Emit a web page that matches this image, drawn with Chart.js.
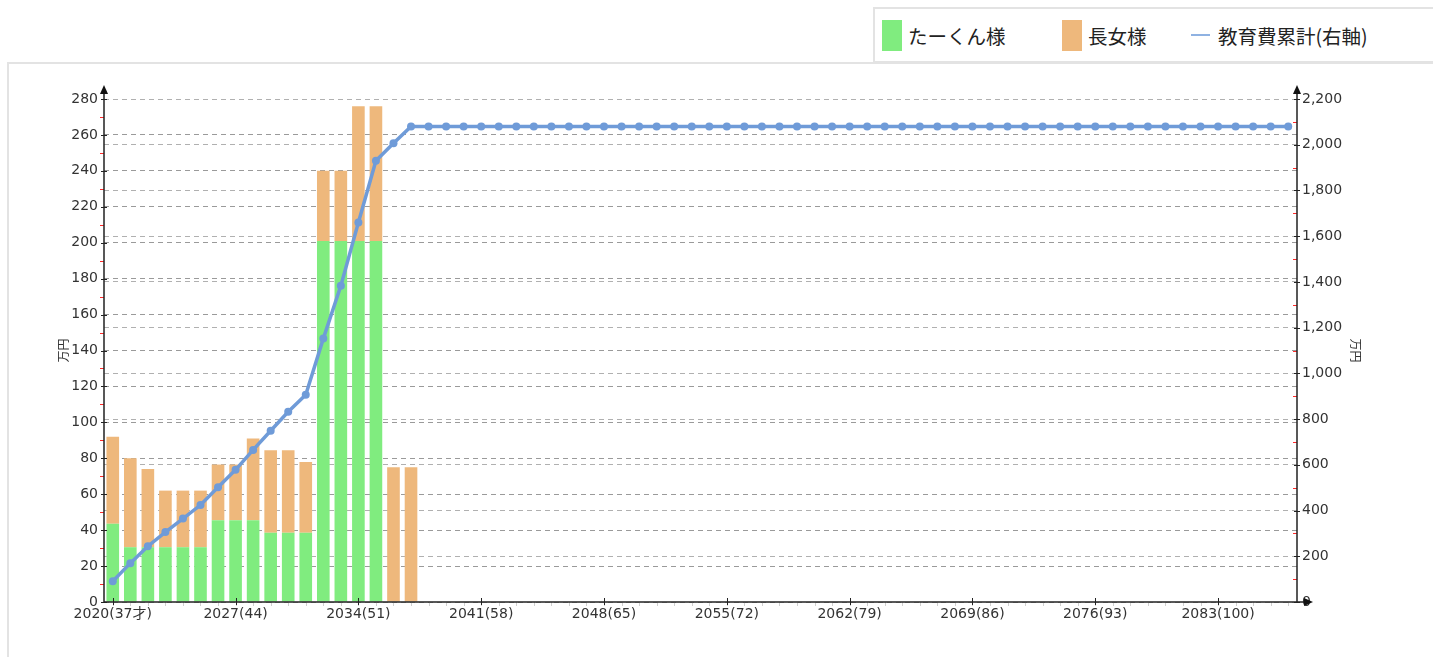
<!DOCTYPE html>
<html>
<head>
<meta charset="utf-8">
<script src="https://cdn.jsdelivr.net/npm/chart.js@4.4.1/dist/chart.umd.min.js"></script>
<style>
  body { margin: 0; background: #fff; width: 1433px; height: 657px; overflow: hidden; position: relative; }
  #panel { position: absolute; left: 7px; top: 62px; width: 1460px; height: 640px; border: 2px solid #e3e3e3; box-sizing: border-box; }
  #legend { position: absolute; left: 873px; top: 7px; width: 600px; height: 56px; border: 2px solid #e3e3e3; box-sizing: border-box; background: #fff; z-index: 2; }
  .item { position: absolute; top: 10px; height: 32px; display: flex; align-items: center; font-family: "Noto Sans CJK JP", sans-serif; font-size: 19.5px; color: #222; white-space: nowrap; }
  .swatch { width: 20px; height: 31px; margin-right: 6px; }
  .dash { width: 19px; height: 2px; margin-right: 8px; }
  #c { position: absolute; left: 0; top: 0; z-index: 1; }
</style>
</head>
<body>
<div id="panel"></div>
<div id="legend"></div>
<canvas id="c" width="1433" height="657"></canvas>
<script>
// data
const startYear = 2020;
const startAge = 37;
const yearCount = 68;
const labelEvery = 7;

const seriesNames = ["たーくん様", "長女様", "教育費累計(右軸)"];
const seriesColors = ["#80ec7f", "#eeb87c", "#6f9bd8"];

// 万円 per year, 2020 .. 2037
const takunCost = [43.5, 30.5, 30.5, 30.5, 30.5, 30.5, 45.5, 45.5, 45.5, 38.5, 38.5, 38.5, 201, 201, 201, 201, 0, 0];
const daughterCost = [48.5, 49.5, 43.5, 31.5, 31.5, 31.5, 31, 31, 45.5, 46, 46, 39.5, 39, 39, 75, 75, 75, 75];

// cumulative (right axis), 2020 .. 2087
const cumulativeCost = [
  91, 170, 244, 306, 365, 424, 502, 578, 665, 749, 832, 906, 1152, 1383, 1660, 1930, 2006, 2080,
  2080, 2080, 2080, 2080, 2080, 2080, 2080, 2080, 2080, 2080,
  2080, 2080, 2080, 2080, 2080, 2080, 2080, 2080, 2080, 2080,
  2080, 2080, 2080, 2080, 2080, 2080, 2080, 2080, 2080, 2080,
  2080, 2080, 2080, 2080, 2080, 2080, 2080, 2080, 2080, 2080,
  2080, 2080, 2080, 2080, 2080, 2080, 2080, 2080, 2080, 2080
];

const leftMax = 280, leftStep = 20;
const rightMax = 2200, rightStep = 200;

const yearLabels = [];
for (let i = 0; i < yearCount; i++) {
  yearLabels.push((startYear + i) + "(" + (startAge + i) + (i === 0 ? "才" : "") + ")");
}

const tickFont = { family: "'DejaVu Sans', 'Noto Sans CJK JP'", size: 14 };
const titleFont = { family: "'Noto Sans CJK JP'", size: 12 };

// axis lines, arrows and small tick marks
const axisDecor = {
  id: "axisDecor",
  afterDraw(chart) {
    const ctx = chart.ctx;
    const a = chart.chartArea;
    const { x, y, y1 } = chart.scales;
    ctx.save();

    // minor red ticks
    ctx.strokeStyle = "#ff2a2a";
    ctx.lineWidth = 1;
    for (let v = leftStep / 2; v < leftMax; v += leftStep) {
      const py = Math.round(y.getPixelForValue(v)) + 0.5;
      ctx.beginPath(); ctx.moveTo(a.left - 4, py); ctx.lineTo(a.left, py); ctx.stroke();
    }
    for (let v = rightStep / 2; v < rightMax; v += rightStep) {
      const py = Math.round(y1.getPixelForValue(v)) + 0.5;
      ctx.beginPath(); ctx.moveTo(a.right - 4, py); ctx.lineTo(a.right, py); ctx.stroke();
    }

    // minor x ticks
    ctx.strokeStyle = "#cfcfcf";
    for (let i = 0; i < yearCount; i++) {
      const px = Math.round(x.getPixelForValue(i)) + 0.5;
      ctx.beginPath(); ctx.moveTo(px, a.bottom); ctx.lineTo(px, a.bottom + 4); ctx.stroke();
    }

    ctx.strokeStyle = "#222";
    ctx.fillStyle = "#111";
    ctx.lineWidth = 1.5;
    // axis lines
    ctx.beginPath();
    ctx.moveTo(a.left, a.top - 10); ctx.lineTo(a.left, a.bottom);
    ctx.moveTo(a.right, a.top - 10); ctx.lineTo(a.right, a.bottom);
    ctx.moveTo(a.left, a.bottom); ctx.lineTo(a.right + 8, a.bottom);
    ctx.stroke();

    // major ticks
    ctx.lineWidth = 1;
    y.ticks.forEach((t, i) => {
      const py = Math.round(y.getPixelForTick(i)) + 0.5;
      ctx.beginPath(); ctx.moveTo(a.left - 3, py); ctx.lineTo(a.left + 3, py); ctx.stroke();
    });
    y1.ticks.forEach((t, i) => {
      const py = Math.round(y1.getPixelForTick(i)) + 0.5;
      ctx.beginPath(); ctx.moveTo(a.right - 3, py); ctx.lineTo(a.right + 3, py); ctx.stroke();
    });
    for (let i = 0; i < yearCount; i += labelEvery) {
      const px = Math.round(x.getPixelForValue(i)) + 0.5;
      ctx.beginPath(); ctx.moveTo(px, a.bottom - 4); ctx.lineTo(px, a.bottom + 3); ctx.stroke();
    }

    // arrows
    const up = (ax) => {
      ctx.beginPath();
      ctx.moveTo(ax, a.top - 14);
      ctx.lineTo(ax - 4, a.top - 5);
      ctx.lineTo(ax + 4, a.top - 5);
      ctx.closePath(); ctx.fill();
    };
    up(a.left);
    up(a.right);
    ctx.beginPath();
    ctx.moveTo(a.right + 16, a.bottom);
    ctx.lineTo(a.right + 7, a.bottom - 4);
    ctx.lineTo(a.right + 7, a.bottom + 4);
    ctx.closePath(); ctx.fill();

    ctx.restore();
  }
};

const chart = new Chart(document.getElementById("c"), {
  type: "bar",
  data: {
    labels: yearLabels,
    datasets: [
      {
        label: seriesNames[2],
        type: "line",
        data: cumulativeCost,
        yAxisID: "y1",
        borderColor: seriesColors[2],
        backgroundColor: seriesColors[2],
        borderWidth: 3.5,
        pointRadius: 4,
        pointBorderWidth: 0,
        tension: 0,
        order: 0
      },
      {
        label: seriesNames[0],
        data: takunCost,
        backgroundColor: seriesColors[0],
        yAxisID: "y",
        order: 1
      },
      {
        label: seriesNames[1],
        data: daughterCost,
        backgroundColor: seriesColors[1],
        yAxisID: "y",
        order: 1
      }
    ]
  },
  options: {
    responsive: false,
    devicePixelRatio: 1,
    animation: false,
    categoryPercentage: 0.8,
    barPercentage: 0.9,
    layout: { padding: { top: 99, right: 66, bottom: 25, left: 0 } },
    plugins: {
      legend: { display: false },
      tooltip: { enabled: false }
    },
    scales: {
      x: {
        stacked: true,
        offset: true,
        grid: { display: false, drawTicks: false },
        border: { display: false },
        ticks: {
          autoSkip: false,
          maxRotation: 0,
          minRotation: 0,
          padding: 4,
          color: "#333",
          font: tickFont,
          callback: (v, i) => (i % labelEvery === 0 ? yearLabels[i] : "")
        },
        afterFit: (s) => { s.height = 30; }
      },
      y: {
        position: "left",
        stacked: true,
        min: 0,
        max: leftMax,
        grid: { color: "#9a9a9a", drawTicks: false },
        border: { display: false, dash: [5, 4] },
        ticks: { stepSize: leftStep, padding: 6, color: "#333", font: tickFont },
        title: { display: true, text: "万円", color: "#333", font: titleFont, padding: { top: 56, bottom: 0 } },
        afterFit: (s) => { s.width = 104; }
      },
      y1: {
        position: "right",
        min: 0,
        max: rightMax,
        grid: { color: "#b0b0b0", drawTicks: false },
        border: { display: false, dash: [5, 4] },
        ticks: {
          stepSize: rightStep,
          padding: 5,
          color: "#333",
          font: tickFont,
          callback: (v) => v.toLocaleString("en-US")
        },
        title: { display: true, text: "万円", color: "#333", font: titleFont, padding: { top: 4, bottom: 0 } },
        afterFit: (s) => { s.width = 70; }
      }
    }
  },
  plugins: [axisDecor]
});

// legend box, built from the chart's datasets
const legendLeft = [882, 1062, 1191];
const legendOrder = [1, 2, 0];
const legendEl = document.getElementById("legend");
legendOrder.forEach((di, k) => {
  const ds = chart.data.datasets[di];
  const item = document.createElement("div");
  item.className = "item";
  item.style.left = (legendLeft[k] - 875) + "px";
  const mark = document.createElement("span");
  if (ds.type === "line") {
    mark.className = "dash";
    mark.style.background = "#8fb2e2";
  } else {
    mark.className = "swatch";
    mark.style.background = ds.backgroundColor;
  }
  item.appendChild(mark);
  item.appendChild(document.createTextNode(ds.label));
  legendEl.appendChild(item);
});
</script>
</body>
</html>
